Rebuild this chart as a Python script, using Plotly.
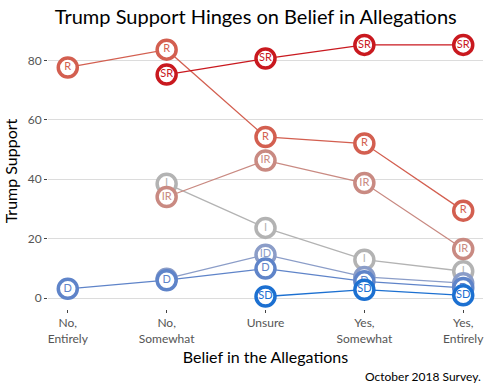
import plotly.graph_objects as go

categories = ["No,<br>Entirely", "No,<br>Somewhat", "Unsure", "Yes,<br>Somewhat", "Yes,<br>Entirely"]

# group -> values per category (None = not shown)
R_vals = [77.6, 83.6, 54.2, 52.0, 29.4]
SR_vals = [None, 75.2, 80.6, 85.2, 85.2]
I_vals = [None, 38.5, 23.6, 12.9, 9.0]
IR_vals = [None, 34.0, 46.3, 38.7, 16.5]
ID_vals = [None, 6.5, 14.6, 7.1, 5.0]
D_vals = [3.1, 6.0, 9.9, 5.6, 3.4]
SD_vals = [None, None, 0.5, 2.8, 0.9]

groups = ["R", "SR", "I", "IR", "ID", "D", "SD"]
values = {"R": R_vals, "SR": SR_vals, "I": I_vals, "IR": IR_vals,
          "ID": ID_vals, "D": D_vals, "SD": SD_vals}
colors = {"R": "#D35F50", "SR": "#C9191F", "I": "#B3B3B3", "IR": "#C98A82",
          "ID": "#8B9DC8", "D": "#5F84C9", "SD": "#1C70D1"}

FONT = "Lato"
fig = go.Figure()

xs = list(range(len(categories)))

for g in groups:
    v = values[g]
    px = [x for x, y in zip(xs, v) if y is not None]
    py = [y for y in v if y is not None]
    fig.add_trace(go.Scatter(x=px, y=py, mode="lines",
                             line=dict(color=colors[g], width=1.3),
                             hoverinfo="skip", showlegend=False))

for g in groups:
    v = values[g]
    px = [x for x, y in zip(xs, v) if y is not None]
    py = [y for y in v if y is not None]
    fig.add_trace(go.Scatter(x=px, y=py, mode="markers+text",
                             text=[g] * len(px), textposition="middle center",
                             textfont=dict(family=FONT, size=11, color=colors[g]),
                             marker=dict(size=19, color="white",
                                         line=dict(color=colors[g], width=3.5)),
                             showlegend=False))

fig.update_layout(
    width=490, height=392,
    margin=dict(l=48, r=7, t=33, b=83),
    plot_bgcolor="white", paper_bgcolor="white",
    font=dict(family=FONT),
    title=dict(text="Trump Support Hinges on Belief in Allegations",
               x=0.522, xanchor="center", xref="container", y=0.957, yanchor="middle",
               font=dict(family=FONT, size=20, color="black")),
    xaxis=dict(range=[-0.2, 4.2], tickvals=xs, ticktext=categories,
               showgrid=False, zeroline=False, showline=False,
               ticks="outside", ticklen=3, tickcolor="#444444",
               tickfont=dict(family=FONT, size=12, color="#555555"),
               title=dict(text="Belief in the Allegations", standoff=6,
                          font=dict(family=FONT, size=16, color="black"))),
    yaxis=dict(range=[-3.7, 89.2], tickvals=[0, 20, 40, 60, 80],
               showgrid=True, gridcolor="#DCDCDC", gridwidth=1,
               zeroline=False, showline=False,
               ticks="outside", ticklen=3, tickcolor="#444444",
               tickfont=dict(family=FONT, size=12, color="#555555"),
               title=dict(text="Trump Support", standoff=6,
                          font=dict(family=FONT, size=16, color="black"))),
    annotations=[dict(text="October 2018 Survey.", xref="paper", yref="paper",
                      x=1.0, y=-0.245, xanchor="right", yanchor="middle",
                      showarrow=False,
                      font=dict(family=FONT, size=12, color="black"))],
)

fig.write_html("out.html", config={"displayModeBar": False},
               post_script="document.body.style.margin='0';")
